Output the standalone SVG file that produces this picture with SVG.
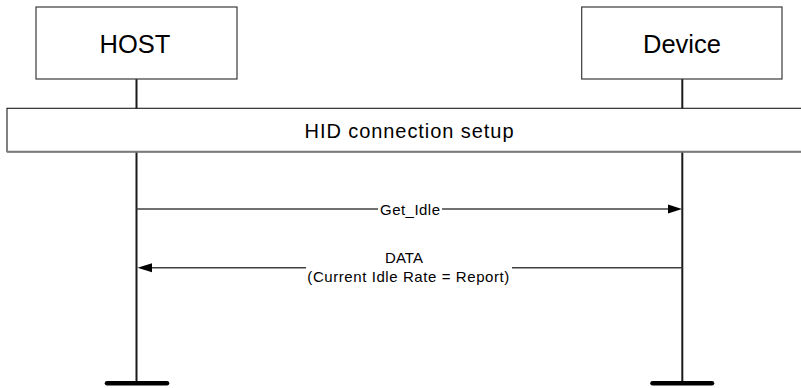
<svg xmlns="http://www.w3.org/2000/svg" width="801" height="388" viewBox="0 0 801 388">
<style>
.box{fill:#fff;stroke:#3a3a3a;stroke-width:1.2}
.life{stroke:#1a1a1a;stroke-width:2;fill:none}
.foot{stroke:#000;stroke-width:4.5;stroke-linecap:round}
.msg{stroke:#404040;stroke-width:1.4;fill:none}
.head{fill:#000}
.t{font-family:"Liberation Sans",Arial,sans-serif;fill:#000;text-anchor:middle}
.m{font-size:15px}
</style>
<rect width="801" height="388" fill="#fff"/>
<g id="lifelines">
<line class="life" x1="136.5" y1="79" x2="136.5" y2="383"/>
<line class="life" x1="682.3" y1="79" x2="682.3" y2="383"/>
<line class="foot" x1="107" y1="383.3" x2="167" y2="383.3"/>
<line class="foot" x1="652.5" y1="383.3" x2="712" y2="383.3"/>
</g>
<g id="host">
<rect class="box" x="36" y="7" width="201" height="72"/>
<text class="t" x="135" y="53.3" font-size="25.5">HOST</text>
</g>
<g id="device">
<rect class="box" x="581.7" y="7" width="200.3" height="72"/>
<text class="t" x="682" y="53.3" font-size="25.5">Device</text>
</g>
<g id="setup">
<rect x="7" y="108.3" width="800" height="43.4" fill="#fff" stroke="#1a1a1a" stroke-width="1.1"/>
<line x1="7" y1="151.7" x2="801" y2="151.7" stroke="#7a7a7a" stroke-width="2"/>
<text class="t" x="409" y="137.5" font-size="20" textLength="209" lengthAdjust="spacing">HID connection setup</text>
</g>
<g id="connectors">
<g id="get_idle">
<line class="msg" x1="136.5" y1="209" x2="378" y2="209"/>
<line class="msg" x1="442" y1="209" x2="669" y2="209"/>
<polygon class="head" points="682,209 668,204.5 668,213.5"/>
<text class="t m" x="410" y="214.7" textLength="60" lengthAdjust="spacing">Get_Idle</text>
</g>
<g id="data">
<line class="msg" x1="150" y1="267.7" x2="306" y2="267.7"/>
<line class="msg" x1="512" y1="267.7" x2="682.3" y2="267.7"/>
<polygon class="head" points="137.5,267.7 152,263.2 152,272.2"/>
<text class="t m" x="404" y="263.3">DATA</text>
<text class="t m" x="408.3" y="282.3" textLength="202" lengthAdjust="spacing">(Current Idle Rate = Report)</text>
</g>
</g>
</svg>
